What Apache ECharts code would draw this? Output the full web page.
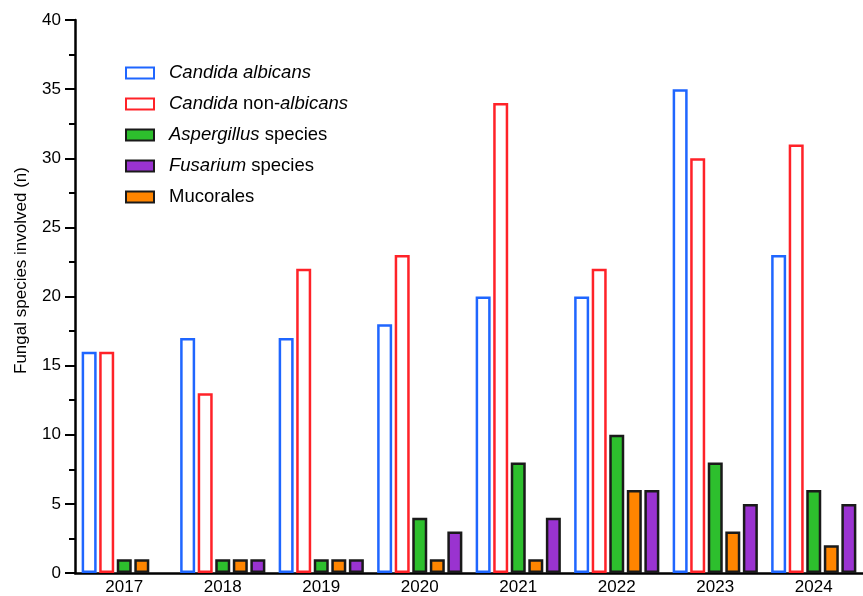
<!DOCTYPE html>
<html>
<head>
<meta charset="utf-8">
<script src="https://cdn.jsdelivr.net/npm/echarts@6/dist/echarts.min.js"></script>
<style>
  html, body { margin: 0; padding: 0; background: #fff; }
  #chart { width: 863px; height: 596px; }
</style>
</head>
<body>
<div id="chart"></div>
<script>
// 年份
var years = ['2017', '2018', '2019', '2020', '2021', '2022', '2023', '2024']
// 各菌种数量
var albicans = [16, 17, 17, 18, 20, 20, 35, 23]
var nonAlbicans = [16, 13, 22, 23, 34, 22, 30, 31]
var aspergillus = [1, 1, 1, 4, 8, 10, 8, 6]
var mucorales = [1, 1, 1, 1, 1, 6, 3, 2]
var fusarium = [0, 1, 1, 3, 4, 6, 5, 5]
var legendNames = ['Candida albicans', 'Candida non-albicans', 'Aspergillus species', 'Fusarium species', 'Mucorales']

var font = "'Liberation Sans', Arial, sans-serif"
var chart = echarts.init(document.getElementById('chart'))

function bar(name, data, fill, border) {
  return {
    name: name,
    type: 'bar',
    // 0 不画柱子（边框会留下一条线）
    data: data.map(function (v) { return v === 0 ? '-' : v }),
    barWidth: 15,
    barGap: '17%',
    itemStyle: {
      color: fill,
      borderColor: border,
      borderWidth: 2.5,
    },
  }
}

var option = {
  animation: false,
  textStyle: { fontFamily: font },
  grid: {
    left: 75,
    right: -12,
    top: 20,
    bottom: 21,
  },
  legend: {
    orient: 'vertical',
    left: 120,
    top: 58,
    selectedMode: false,
    icon: 'rect',
    itemWidth: 28,
    itemHeight: 11,
    itemGap: 11,
    data: legendNames,
    formatter: function (name) {
      if (name === 'Candida albicans') return '{i|Candida albicans}'
      if (name === 'Candida non-albicans') return '{i|Candida} {n|non-}{i|albicans}'
      if (name === 'Aspergillus species') return '{i|Aspergillus} {n|species}'
      if (name === 'Fusarium species') return '{i|Fusarium} {n|species}'
      return '{n|' + name + '}'
    },
    textStyle: {
      fontFamily: font,
      fontSize: 18.5,
      color: '#000',
      lineHeight: 20,
      padding: [0, 0, 0, 10],
      rich: {
        i: { fontFamily: font, fontSize: 18.5, fontStyle: 'italic', color: '#000' },
        n: { fontFamily: font, fontSize: 18.5, color: '#000' },
      },
    },
  },
  xAxis: {
    type: 'category',
    data: years,
    axisLine: { lineStyle: { color: '#000', width: 2.5 } },
    axisTick: { show: false },
    axisLabel: { color: '#000', fontSize: 17, margin: 6, fontFamily: font },
  },
  yAxis: {
    type: 'value',
    min: 0,
    max: 40,
    interval: 5,
    name: 'Fungal species involved (n)',
    nameLocation: 'middle',
    nameGap: 45,
    nameTextStyle: { color: '#000', fontSize: 17, fontFamily: font, padding: [0, 0, 0, 52] },
    axisLine: { show: true, lineStyle: { color: '#000', width: 2.5 } },
    axisTick: { show: true, length: 10, lineStyle: { color: '#000', width: 2 } },
    minorTick: { show: true, splitNumber: 2, length: 6, lineStyle: { color: '#000', width: 2 } },
    splitLine: { show: false },
    axisLabel: { color: '#000', fontSize: 17, margin: 14, fontFamily: font },
  },
  series: [
    bar('Candida albicans', albicans, '#fff', '#1f66ff'),
    bar('Candida non-albicans', nonAlbicans, '#fff', '#ff2228'),
    bar('Aspergillus species', aspergillus, '#2dbf2d', '#1a1a1a'),
    bar('Mucorales', mucorales, '#ff8500', '#1a1a1a'),
    bar('Fusarium species', fusarium, '#9a33d0', '#1a1a1a'),
  ],
}
chart.setOption(option)
</script>
</body>
</html>
